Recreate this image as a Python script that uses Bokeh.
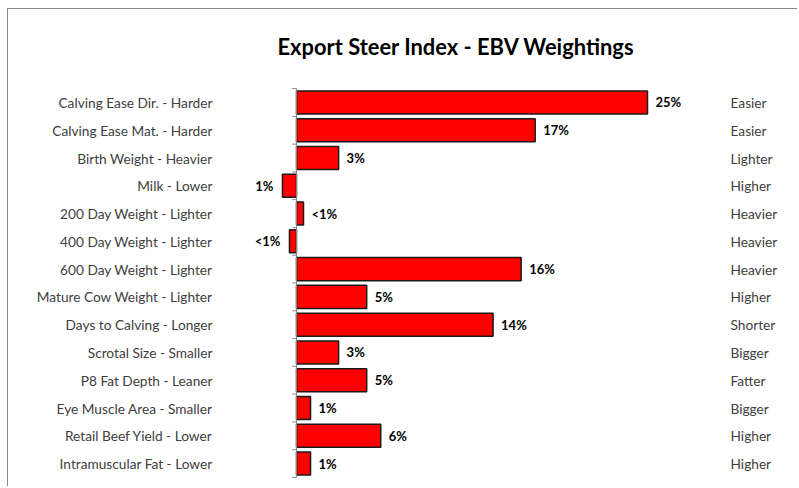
from bokeh.plotting import figure
from bokeh.models import Range1d, FixedTicker, ColumnDataSource, LinearAxis
from bokeh.embed import file_html
from bokeh.resources import INLINE
from bokeh.core.properties import value

traits = ["Calving Ease Dir. - Harder", "Calving Ease Mat. - Harder", "Birth Weight - Heavier",
          "Milk - Lower", "200 Day Weight - Lighter", "400 Day Weight - Lighter",
          "600 Day Weight - Lighter", "Mature Cow Weight - Lighter", "Days to Calving - Longer",
          "Scrotal Size - Smaller", "P8 Fat Depth - Leaner", "Eye Muscle Area - Smaller",
          "Retail Beef Yield - Lower", "Intramuscular Fat - Lower"]
directions = ["Easier", "Easier", "Lighter", "Higher", "Heavier", "Heavier", "Heavier",
              "Higher", "Shorter", "Bigger", "Fatter", "Bigger", "Higher", "Higher"]
weights = [25, 17, 3, -1, 0.5, -0.5, 16, 5, 14, 3, 5, 1, 6, 1]
weight_labels = ["25%", "17%", "3%", "1%", "<1%", "<1%", "16%", "5%", "14%", "3%", "5%", "1%", "6%", "1%"]
title_text = "Export Steer Index - EBV Weightings"

FONT = "Lato"
idx = list(range(len(traits)))

p = figure(width=790, height=478, output_backend="svg", toolbar_location=None,
           x_range=Range1d(-4.70, 30.34), y_range=Range1d(13.61, -0.754),
           min_border_left=222, min_border_right=76, min_border_top=71, min_border_bottom=7,
           title=title_text)
p.styles = {"margin-left": "7px", "margin-top": "8px",
            "border-top": "1px solid #898989", "border-left": "1px solid #898989"}
p.title.text_font = FONT
p.title.text_font_size = "21.9px"
p.title.text_font_style = "bold"
p.title.text_color = "#000000"
p.title.align = "left"
p.title.offset = 47
p.title.standoff = 43

p.xaxis.visible = False
p.grid.visible = False
p.outline_line_color = None
p.background_fill_color = "white"
p.border_fill_color = "white"

yl = p.yaxis[0]
yl.ticker = FixedTicker(ticks=idx)
yl.major_label_overrides = {i: t for i, t in zip(idx, traits)}
yl.axis_line_color = None
yl.major_tick_line_color = None
yl.major_tick_out = 0
yl.major_tick_in = 0
yl.minor_tick_line_color = None
yl.major_label_standoff = 18
yl.major_label_text_font = FONT
yl.major_label_text_font_size = "13.7px"
yl.major_label_text_color = "#404040"

yr = LinearAxis(ticker=FixedTicker(ticks=idx),
                major_label_overrides={i: t for i, t in zip(idx, directions)})
yr.axis_line_color = None
yr.major_tick_line_color = None
yr.major_tick_out = 0
yr.major_tick_in = 0
yr.minor_tick_line_color = None
yr.major_label_standoff = 8
yr.major_label_text_font = FONT
yr.major_label_text_font_size = "13.7px"
yr.major_label_text_color = "#404040"
p.add_layout(yr, "right")

src = ColumnDataSource(dict(
    y=idx, w=weights, lab=weight_labels,
    align=["left" if w >= 0 else "right" for w in weights],
    xo=[8 if w >= 0 else -9 for w in weights],
))
p.hbar(y="y", left=0, right="w", height=0.83, source=src,
       fill_color="#FF0000", line_color="#1a1a1a", line_width=1.5)
p.text(x="w", y="y", text="lab", source=src, text_align="align", x_offset="xo",
       text_baseline="middle", text_font=value(FONT), text_font_style="bold",
       text_font_size="13px", text_color="#000000")

# zero axis line with boundary ticks
bounds = [i - 0.5 for i in range(len(traits) + 1)]
p.segment(x0=[0], y0=[bounds[0]], x1=[0], y1=[bounds[-1]], line_color="#868686", line_width=1)
p.segment(x0=[-0.3] * len(bounds), y0=bounds, x1=[0] * len(bounds), y1=bounds,
          line_color="#868686", line_width=1)

open("out.html", "w").write(file_html(p, INLINE))
